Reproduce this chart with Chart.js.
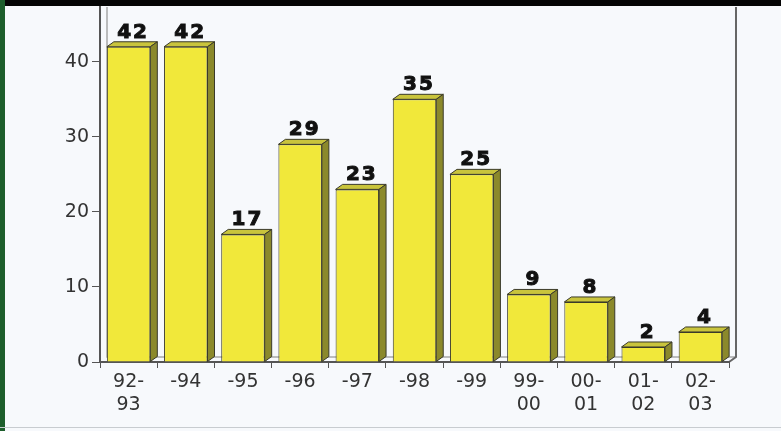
<!DOCTYPE html>
<html>
<head>
<meta charset="utf-8">
<script src="https://cdn.jsdelivr.net/npm/chart.js@4.4.1/dist/chart.umd.min.js"></script>
<style>
  html, body { margin: 0; padding: 0; background: #f7f9fc; }
  #wrap { width: 781px; height: 431px; position: relative; }
</style>
</head>
<body>
<div id="wrap"><canvas id="myChart" width="781" height="431"></canvas></div>
<script>
// data
var seasons = [["92-", "93"], "-94", "-95", "-96", "-97", "-98", "-99", ["99-", "00"], ["00-", "01"], ["01-", "02"], ["02-", "03"]];
var counts = [42, 42, 17, 29, 23, 35, 25, 9, 8, 2, 4];
var yTicks = [0, 10, 20, 30, 40];

var DX = 7, DY = 5; // 3d depth

// page frame, back wall, 3d faces and value labels
var framePlugin = {
  id: 'frame',
  beforeDraw: function(chart) {
    var c = chart.ctx, a = chart.chartArea;
    c.save();
    c.fillStyle = '#f7f9fc';
    c.fillRect(0, 0, chart.width, chart.height);
    c.fillStyle = '#050505';
    c.fillRect(0, 0, chart.width, 6);
    c.fillStyle = '#1d5e2c';
    c.fillRect(0, 0, 5, chart.height);
    c.fillStyle = '#c8ccd0';
    c.fillRect(0, 427, chart.width, 1);
    // back wall
    c.strokeStyle = '#a8a8a8';
    c.lineWidth = 1.5;
    c.beginPath();
    c.moveTo(a.left + DX, a.top);
    c.lineTo(a.left + DX, a.bottom - DY);
    c.lineTo(a.right + DX, a.bottom - DY);
    c.stroke();
    c.strokeStyle = '#666';
    c.lineWidth = 2;
    c.beginPath();
    c.moveTo(a.right + DX, a.top);
    c.lineTo(a.right + DX, a.bottom - DY);
    c.lineTo(a.right, a.bottom);
    c.stroke();
    c.restore();
  },
  beforeDatasetsDraw: function(chart) {
    var c = chart.ctx;
    var bars = chart.getDatasetMeta(0).data;
    c.save();
    c.strokeStyle = '#3a3a2a';
    c.lineWidth = 1;
    bars.forEach(function(b) {
      var l = b.x - b.width / 2, r = b.x + b.width / 2;
      c.fillStyle = '#c9c43c';
      c.beginPath();
      c.moveTo(l, b.y);
      c.lineTo(l + DX, b.y - DY);
      c.lineTo(r + DX, b.y - DY);
      c.lineTo(r, b.y);
      c.closePath();
      c.fill(); c.stroke();
      c.fillStyle = '#8b892b';
      c.beginPath();
      c.moveTo(r, b.y);
      c.lineTo(r + DX, b.y - DY);
      c.lineTo(r + DX, b.base - DY);
      c.lineTo(r, b.base);
      c.closePath();
      c.fill(); c.stroke();
    });
    c.restore();
  },
  afterDatasetsDraw: function(chart) {
    var c = chart.ctx;
    var bars = chart.getDatasetMeta(0).data;
    c.save();
    c.fillStyle = '#111';
    c.strokeStyle = '#111';
    c.lineWidth = 1;
    c.font = 'bold 20px "DejaVu Sans"';
    c.letterSpacing = '2px';
    c.textAlign = 'center';
    c.textBaseline = 'alphabetic';
    bars.forEach(function(b, i) {
      var tx = b.x + DX / 2 + 1, ty = b.y - DY - 4;
      c.fillText(counts[i], tx, ty);
      c.strokeText(counts[i], tx, ty);
    });
    c.restore();
  }
};

Chart.defaults.font.family = '"DejaVu Sans", Verdana, sans-serif';

var ctx = document.getElementById('myChart').getContext('2d');
var chart = new Chart(ctx, {
  type: 'bar',
  data: {
    labels: seasons,
    datasets: [{
      data: counts,
      backgroundColor: '#f1e83a',
      borderColor: '#3a3a2a',
      borderWidth: 1,
      categoryPercentage: 1,
      barPercentage: 0.76
    }]
  },
  options: {
    responsive: false,
    animation: false,
    layout: { padding: { top: 7, right: 52, left: 0, bottom: 0 } },
    plugins: { legend: { display: false }, tooltip: { enabled: false } },
    scales: {
      x: {
        grid: { offset: true, drawOnChartArea: false, tickLength: 6, color: '#555' },
        border: { display: true, color: '#555', width: 2 },
        ticks: { color: '#333', font: { size: 19 }, maxRotation: 0, autoSkip: false, padding: 3 },
        afterFit: function(s) { s.height = 69; s.paddingLeft = 0; s.paddingRight = 0; }
      },
      y: {
        min: 0,
        max: 47.3,
        grid: { drawOnChartArea: false, tickLength: 8, color: '#555' },
        border: { display: true, color: '#555', width: 2 },
        ticks: { color: '#333', font: { size: 19 }, stepSize: 10, padding: 3 },
        afterBuildTicks: function(s) {
          s.ticks = yTicks.map(function(v) { return { value: v }; });
        },
        afterFit: function(s) { s.width = 100; s.paddingTop = 0; s.paddingBottom = 0; }
      }
    }
  },
  plugins: [framePlugin]
});
</script>
</body>
</html>
